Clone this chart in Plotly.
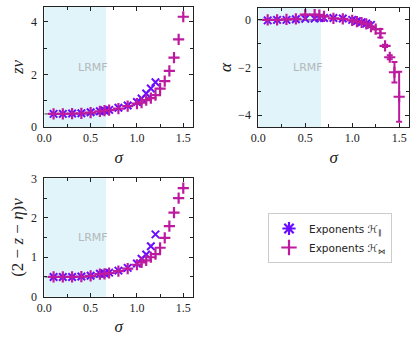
import plotly.graph_objects as go

# ---------------- data ----------------
sigma_par = [0.1, 0.2, 0.3, 0.4, 0.5, 0.6, 0.65, 0.7, 0.8, 0.9, 1.0, 1.05, 1.1, 1.15, 1.2]
sigma_bow = [0.1, 0.2, 0.3, 0.4, 0.5, 0.6, 0.65, 0.7, 0.8, 0.9, 1.0, 1.05, 1.1, 1.15, 1.2,
             1.25, 1.3, 1.35, 1.4, 1.45, 1.5]

znu_par = [0.50, 0.50, 0.51, 0.52, 0.56, 0.60, 0.63, 0.65, 0.73, 0.82, 0.95, 1.08, 1.27, 1.46, 1.70]
znu_bow = [0.50, 0.50, 0.51, 0.52, 0.55, 0.59, 0.62, 0.64, 0.70, 0.79, 0.89, 0.93, 1.02, 1.10, 1.21,
           1.46, 1.74, 2.13, 2.64, 3.33, 4.19]

alpha_par = [-0.02, 0.00, 0.00, 0.03, 0.05, 0.06, 0.08, 0.08, 0.08, 0.06, 0.00, -0.05, -0.10, -0.15, -0.21]
alpha_bow = [0.00, 0.00, 0.02, 0.04, 0.22, 0.22, 0.20, 0.15, 0.06, 0.04, -0.02, -0.07, -0.11, -0.17, -0.28,
             -0.39, -0.56, -1.09, -1.57, -2.20, -3.23]
alpha_bow_err = [0, 0, 0, 0, 0, 0, 0, 0, 0, 0, 0, 0, 0, 0, 0,
                 0, 0.18, 0.05, 0.08, 0.43, 1.05]

eta_par = [0.50, 0.50, 0.50, 0.51, 0.53, 0.58, 0.59, 0.61, 0.66, 0.73, 0.84, 0.96, 1.07, 1.28, 1.58]
eta_bow = [0.50, 0.50, 0.50, 0.51, 0.53, 0.57, 0.58, 0.60, 0.65, 0.71, 0.81, 0.87, 0.92, 1.00, 1.08,
           1.24, 1.49, 1.79, 2.13, 2.50, 2.75]

lrmf_bound = [0.0, 2 / 3]
mf_znu = [0.5, 0.5]
mf_alpha = [0.0, 0.0]
mf_eta = [0.5, 0.5]

legend_names = ["Exponents ℋ<sub>∥</sub>", "Exponents ℋ<sub>⋈</sub>"]

# ---------------- style ----------------
BLUE = "#6a0cff"
MAG = "#bd1a9f"
GREY = "#8a8a8a"
SHADE = "#e1f4f9"
SERIF = "Liberation Serif"
SANS = "DejaVu Sans"

W, H = 416, 343
def fx(a, b):
    return [a / W, b / W]
def fy(top, bot):
    return [1 - bot / H, 1 - top / H]

fig = go.Figure()

panels = [
    ("x", "y", znu_par, znu_bow, None, mf_znu),
    ("x2", "y2", alpha_par, alpha_bow, alpha_bow_err, mf_alpha),
    ("x3", "y3", eta_par, eta_bow, None, mf_eta),
]

for xa, ya, ypar, ybow, err, mf in panels:
    fig.add_trace(go.Scatter(x=lrmf_bound, y=mf, xaxis=xa, yaxis=ya, mode="lines",
                             line=dict(color=GREY, width=1.6), showlegend=False, hoverinfo="skip"))
    fig.add_trace(go.Scatter(x=sigma_par, y=ypar, xaxis=xa, yaxis=ya, mode="markers",
                             marker=dict(symbol="x-thin-open", size=7.5, color=BLUE,
                                         line=dict(color=BLUE, width=2)),
                             showlegend=False))
    kw = {}
    if err is not None:
        kw["error_y"] = dict(type="data", array=err, color=MAG, thickness=2, width=3)
    fig.add_trace(go.Scatter(x=sigma_bow, y=ybow, xaxis=xa, yaxis=ya, mode="markers",
                             marker=dict(symbol="cross-thin-open", size=8, color=MAG,
                                         line=dict(color=MAG, width=2.2)),
                             showlegend=False, **kw))

# legend-only entries
fig.add_trace(go.Scatter(x=[None], y=[None], mode="markers", name=legend_names[0],
                         marker=dict(symbol="asterisk-open", size=11, color=BLUE,
                                     line=dict(color=BLUE, width=2.2))))
fig.add_trace(go.Scatter(x=[None], y=[None], mode="markers", name=legend_names[1],
                         marker=dict(symbol="cross-thin-open", size=11, color=MAG,
                                     line=dict(color=MAG, width=2.2))))

tickfont = dict(family=SERIF, size=12, color="#222")
titlefont = dict(family=SERIF, size=17, color="#222")

def xaxis(dom, anchor):
    return dict(domain=dom, anchor=anchor, range=[0, 1.605], tickvals=[0, 0.5, 1.0, 1.5],
                ticktext=["0.0", "0.5", "1.0", "1.5"], ticks="inside", ticklen=4,
                tickcolor="#222", minor=dict(dtick=0.25, tick0=0, ticks="inside", ticklen=3, tickcolor="#222"),
                showline=True, linecolor="#222", linewidth=1, mirror="allticks",
                showgrid=False, zeroline=False, tickfont=tickfont, automargin=False,
                title=dict(text="<i>σ</i>", font=titlefont, standoff=6))

def yaxis(dom, anchor, rng, tv, minor_dtick, title, tick0=0):
    return dict(domain=dom, anchor=anchor, range=rng, tickvals=tv,
                ticktext=[("−" + str(-v)) if v < 0 else str(v) for v in tv],
                ticks="inside", ticklen=4, tickcolor="#222", ticklabelstandoff=4,
                minor=dict(dtick=minor_dtick, tick0=tick0, ticks="inside", ticklen=3, tickcolor="#222"),
                showline=True, linecolor="#222", linewidth=1, mirror="allticks",
                showgrid=False, zeroline=False, tickfont=tickfont, automargin=False,
                title=dict(text=title, font=titlefont, standoff=2))

d1x = fx(44.3, 193)
d2x = fx(258.3, 409)
d1y = fy(7, 127)
d2y = fy(8, 127)
d3y = fy(178.3, 296.7)

fig.update_layout(
    width=W, height=H, margin=dict(l=0, r=0, t=0, b=0, autoexpand=False),
    paper_bgcolor="white", plot_bgcolor="white",
    xaxis=xaxis(d1x, "y"),
    yaxis=yaxis(d1y, "x", [0, 4.56], [0, 2, 4], 1, "<i>zν</i>"),
    xaxis2=xaxis(d2x, "y2"),
    yaxis2=yaxis(d2y, "x2", [-4.5, 0.5], [-4, -2, 0], 1, "<i>α</i>"),
    xaxis3=xaxis(d1x, "y3"),
    yaxis3=yaxis(d3y, "x3", [0, 3.0], [0, 1, 2, 3], 0.5, "(2 − <i>z</i> − <i>η</i>)<i>ν</i>"),
    legend=dict(x=268 / W, y=1 - 213 / H, xanchor="left", yanchor="top",
                bgcolor="white", bordercolor="#cccccc", borderwidth=1,
                font=dict(family=SANS, size=10.5, color="#222"), itemwidth=30,
                tracegroupgap=2),
    showlegend=True,
)

shapes = []
annotations = []
for xr, yr in [("x", "y"), ("x2", "y2"), ("x3", "y3")]:
    shapes.append(dict(type="rect", xref=xr, yref=yr + " domain", x0=lrmf_bound[0], x1=lrmf_bound[1],
                       y0=0, y1=1, fillcolor=SHADE, line=dict(width=0), layer="below"))
    annotations.append(dict(text="LRMF", xref=xr + " domain", yref=yr + " domain", x=0.215, y=0.5,
                            showarrow=False, font=dict(family=SANS, size=11, color="#b4b8bb")))
fig.update_layout(shapes=shapes, annotations=annotations)

fig.write_html("out.html", config={"displayModeBar": False},
               post_script="document.body.style.margin='0';document.body.style.overflow='hidden';")
